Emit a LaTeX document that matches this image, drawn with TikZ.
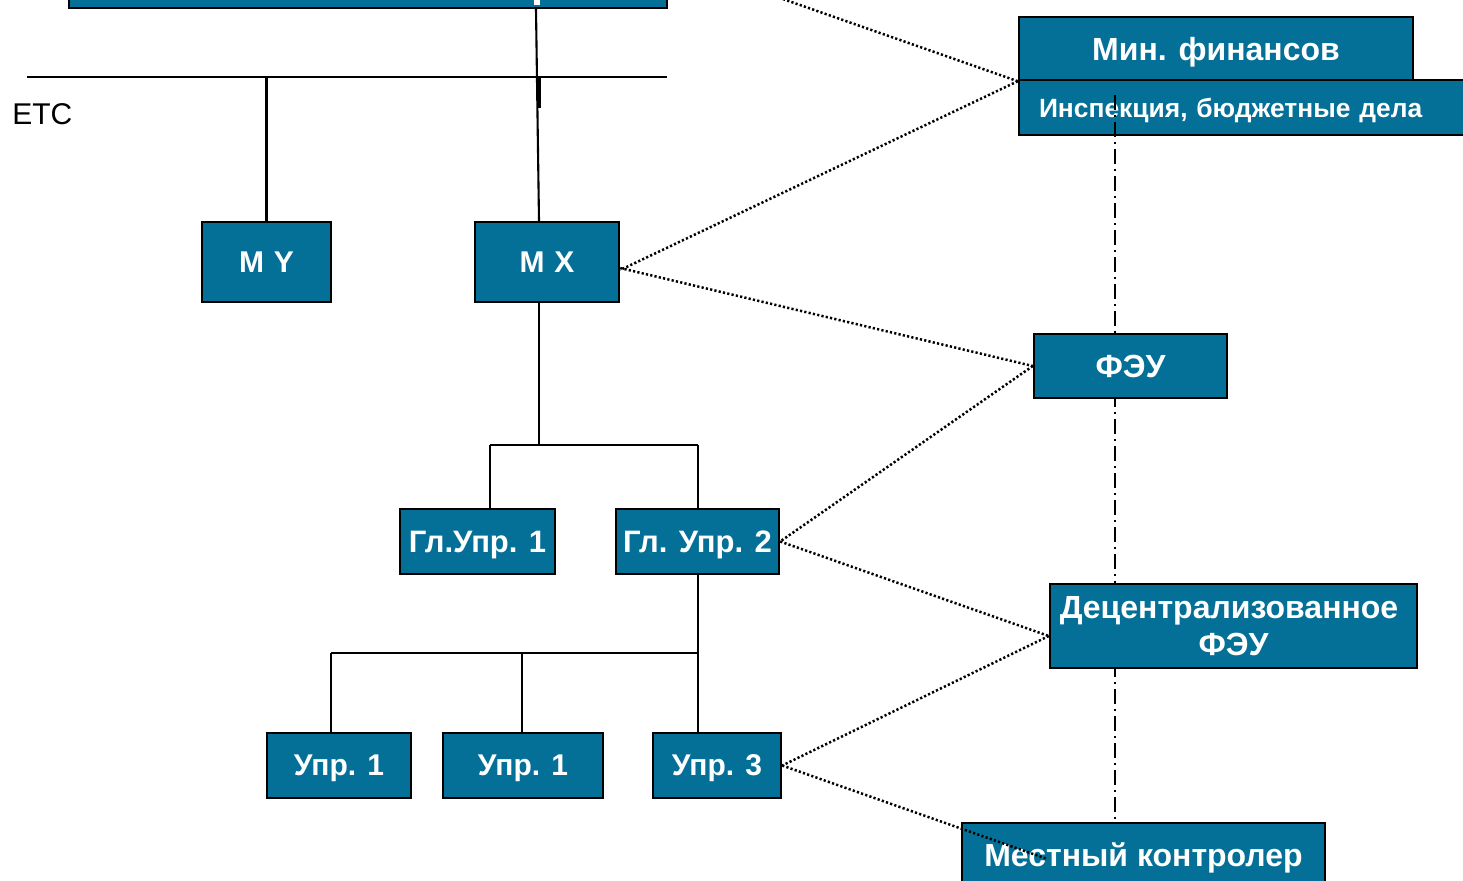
\documentclass[tikz,border=0pt]{standalone}
\usepackage{fontspec}
\setmainfont{Liberation Sans}
\usetikzlibrary{calc}
\definecolor{boxblue}{RGB}{5,112,151}
\tikzset{
  box/.style={draw=black, line width=1.2pt, fill=boxblue, text=white, inner sep=0pt,
    text depth=0pt, font=\bfseries\fontsize{15}{18.5}\selectfont, align=center},
  bigtext/.style={font=\bfseries\fontsize{16}{18.5}\selectfont},
  conn/.style={draw=black, line width=1.05pt},
  dots/.style={draw=black, line width=1.25pt, dash pattern=on 1.1pt off 1.1pt},
  dashdot/.style={draw=black, line width=1.1pt, dash pattern=on 7.5pt off 2.5pt on 1pt off 2.5pt}
}
\begin{document}
\begin{tikzpicture}[x=0.5pt,y=-0.5pt]
\useasboundingbox (0,0) rectangle (1463,880);
\clip (0,0) rectangle (1463,880);

% left hierarchy boxes
\node[box, minimum width=299pt, minimum height=24pt] (top) at (368,-16) {};
\fill[white] (534,0) rectangle (540,5);
\node[box, minimum width=64.5pt, minimum height=40pt] (MY) at (266.5,262) {M\,\,Y};
\node[box, minimum width=72pt, minimum height=40pt] (MX) at (547,262) {M\,\,X};
\node[box, minimum width=77.5pt, minimum height=32.5pt, font=\bfseries\fontsize{15.5}{18}\selectfont] (GU1) at (477.5,541.5) {Гл.Упр. 1};
\node[box, minimum width=81.5pt, minimum height=32.5pt, font=\bfseries\fontsize{15.5}{18}\selectfont] (GU2) at (697.5,541.5) {Гл. Упр. 2};
\node[box, minimum width=72pt, minimum height=32.5pt] (U1a) at (339,765.5) {Упр. 1};
\node[box, minimum width=80pt, minimum height=32.5pt] (U1b) at (523,765.5) {Упр. 1};
\node[box, minimum width=64pt, minimum height=32.5pt] (U3) at (717,765.5) {Упр. 3};

\node[font=\fontsize{15}{18}\selectfont, anchor=west, inner sep=0pt] (etc) at (12,114) {ETC};

% solid connectors
\coordinate (busL) at (27,77);
\coordinate (busR) at (667,77);
\coordinate (tx) at (536,0);
\coordinate (mx) at (539,0);
\draw[conn] (busL) -- (busR);
\draw[conn] (top.south -| tx) -- (MX.north -| mx);
\draw[conn, line width=1.6pt] (539,77) -- (539,108);
\draw[conn] (MY.north |- busL) -- (MY.north);

\coordinate (j1) at (539,445);
\coordinate (j1L) at (490,445);
\coordinate (j1R) at (698,445);
\draw[conn] (j1 |- MX.south) -- (j1);
\draw[conn] (j1L) -- (j1R);
\draw[conn] (j1L) -- (j1L |- GU1.north);
\draw[conn] (j1R) -- (j1R |- GU2.north);

\coordinate (j2) at (698,653);
\coordinate (j2L) at (331,653);
\coordinate (j2M) at (522,653);
\draw[conn] (j2 |- GU2.south) -- (j2 |- U3.north);
\draw[conn] (j2L) -- (j2);
\draw[conn] (j2L) -- (j2L |- U1a.north);
\draw[conn] (j2M) -- (j2M |- U1b.north);

% right column
\node[box, minimum width=228pt, minimum height=27.5pt, text width=208pt, align=left,
      font=\bfseries\fontsize{13.2}{15}\selectfont] (Insp) at (1247,107.5) {Инспекция, бюджетные дела};
\coordinate (ddtop) at (1115,95);
\coordinate (ddbot) at (1115,825);
\draw[dashdot] (ddtop) -- (ddbot);
\node[box, bigtext, minimum width=197pt, minimum height=31.5pt] (Min) at (1216,48.5) {Мин. финансов};
\node[box, bigtext, minimum width=96.5pt, minimum height=32pt] (FEU) at (1130.5,366) {ФЭУ};
\node[box, bigtext, minimum width=183.5pt, minimum height=42pt] (Dec) at (1233.5,626) {Децентрализованное\hspace*{4.5pt}\\ФЭУ};
\node[box, bigtext, minimum width=181.5pt, minimum height=32pt] (Mest) at (1143.5,855) {Местный контролер};

% dotted connectors
\coordinate (dstart) at (700,-30);
\draw[dots] (dstart) -- (Min.south west);
\draw[dots] (Min.south west) -- ([yshift=-4pt]MX.east);
\draw[dots] ([yshift=-3pt]MX.east) -- (FEU.west);
\draw[dots] (FEU.west) -- (GU2.east);
\draw[dots] (GU2.east) -- ([yshift=-5pt]Dec.west);
\draw[dots] ([yshift=-5pt]Dec.west) -- (U3.east);
\draw[dots] (U3.east) -- ([xshift=43pt,yshift=-18.5pt]Mest.north west);
\end{tikzpicture}
\end{document}
